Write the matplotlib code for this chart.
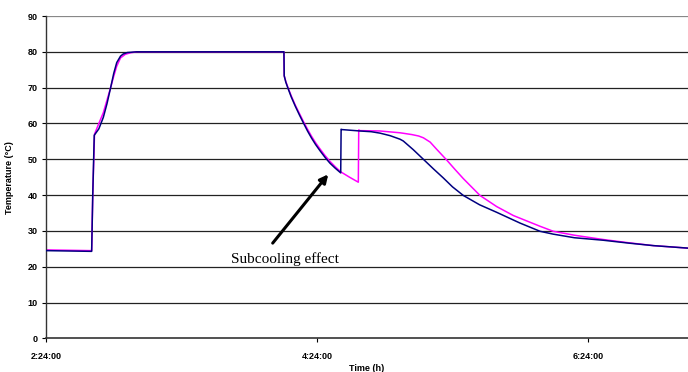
import matplotlib
matplotlib.use("Agg")
import matplotlib.pyplot as plt

# time in decimal hours (2.4 = 2:24:00), temperature in °C
t_blue = [2.40, 2.737, 2.745, 2.756, 2.790, 2.823, 2.850, 2.877, 2.900, 2.922, 2.950, 2.970, 3.000, 3.069,
          4.156, 4.158, 4.170, 4.188, 4.210, 4.240, 4.270, 4.299, 4.330, 4.360, 4.390, 4.422,
          4.460, 4.496, 4.535, 4.575,
          4.578, 4.582, 4.717, 4.800, 4.865, 4.939, 5.013, 5.037, 5.110, 5.185, 5.260, 5.332,
          5.400, 5.480, 5.600, 5.726, 5.898, 6.046, 6.144, 6.300, 6.513, 6.700, 6.882, 7.138]
T_blue = [24.5, 24.3, 40.0, 56.7, 58.5, 61.7, 65.5, 70.0, 74.0, 77.0, 78.8, 79.4, 79.8, 80.0,
          80.0, 73.3, 71.5, 69.6, 67.4, 64.8, 62.4, 60.2, 57.9, 55.9, 54.1, 52.4,
          50.5, 48.9, 47.5, 46.2,
          58.4, 58.3, 57.9, 57.7, 57.3, 56.6, 55.6, 55.1, 52.7, 50.0, 47.3, 44.8,
          42.3, 39.9, 37.3, 35.2, 32.2, 29.9, 29.1, 28.1, 27.4, 26.6, 25.9, 25.2]

t_mag = [2.40, 2.737, 2.745, 2.758, 2.790, 2.823, 2.850, 2.877, 2.900, 2.922, 2.950, 2.985, 3.020, 3.069,
         4.156, 4.158, 4.170, 4.188, 4.210, 4.240, 4.270, 4.299, 4.330, 4.360, 4.390, 4.422,
         4.460, 4.496, 4.535, 4.575, 4.640, 4.705,
         4.708, 4.717, 4.865, 5.013, 5.100, 5.150, 5.185, 5.235, 5.283, 5.357, 5.420, 5.480,
         5.603, 5.726, 5.849, 6.046, 6.144, 6.300, 6.513, 6.700, 6.882, 7.138]
T_mag = [24.7, 24.5, 40.0, 57.0, 60.0, 63.0, 66.5, 70.0, 73.2, 76.0, 78.3, 79.3, 79.7, 80.0,
         80.0, 73.3, 71.7, 69.8, 67.7, 65.1, 62.8, 60.6, 58.4, 56.4, 54.6, 52.9,
         51.0, 49.4, 47.9, 46.5, 45.0, 43.6,
         58.2, 58.0, 57.9, 57.4, 56.9, 56.5, 56.0, 54.8, 52.8, 49.8, 47.1, 44.6,
         39.9, 36.8, 34.3, 31.3, 29.9, 28.8, 27.6, 26.7, 25.9, 25.2]

x_ticks = [2.4, 4.4, 6.4]
x_labels = ["2:24:00", "4:24:00", "6:24:00"]
y_ticks = list(range(0, 91, 10))

fig = plt.figure(figsize=(6.88, 3.72), dpi=100)
ax = fig.add_axes([46 / 688, 1 - 338.4 / 372, 1 - 46 / 688, (338.4 - 16) / 372])

for y in y_ticks[1:]:
    ax.axhline(y, color="#222222" if y != 90 else "#888888", lw=0.9, zorder=1)

ax.plot(t_blue, T_blue, color="#000080", lw=1.1, zorder=3)
ax.plot(t_mag, T_mag, color="#FF00FF", lw=1.1, zorder=2)

ax.set_xlim(2.4, 7.138)
ax.set_ylim(0, 90)
ax.set_xticks(x_ticks)
ax.set_xticklabels(x_labels)
ax.set_yticks(y_ticks)

tick_font = dict(family="Liberation Sans", size=6.5, weight="bold")
for lab in ax.get_xticklabels() + ax.get_yticklabels():
    lab.set_fontfamily("Liberation Sans")
    lab.set_fontsize(6.5)
    lab.set_fontweight("bold")
ax.tick_params(axis="both", direction="out", length=3, width=0.8, pad=3)
ax.tick_params(axis="x", pad=7)

for side in ["top", "right"]:
    ax.spines[side].set_visible(False)
ax.spines["left"].set_color("#333333")
ax.spines["bottom"].set_color("#333333")
ax.spines["left"].set_linewidth(1.0)
ax.spines["bottom"].set_linewidth(1.2)

ax.set_xlabel("Time (h)", **tick_font, labelpad=2)
ax.set_ylabel("Temperature (°C)", **tick_font, labelpad=10)

ax.annotate("", xy=(4.483, 45.8), xytext=(4.073, 26.6),
            arrowprops=dict(arrowstyle="-|>", color="black", lw=2.2,
                            mutation_scale=12, shrinkA=0, shrinkB=0), zorder=5)
ax.text(4.16, 21.0, "Subcooling effect", family="Liberation Serif", size=11,
        ha="center", va="baseline", zorder=5)

fig.savefig("out.png", dpi=100)
